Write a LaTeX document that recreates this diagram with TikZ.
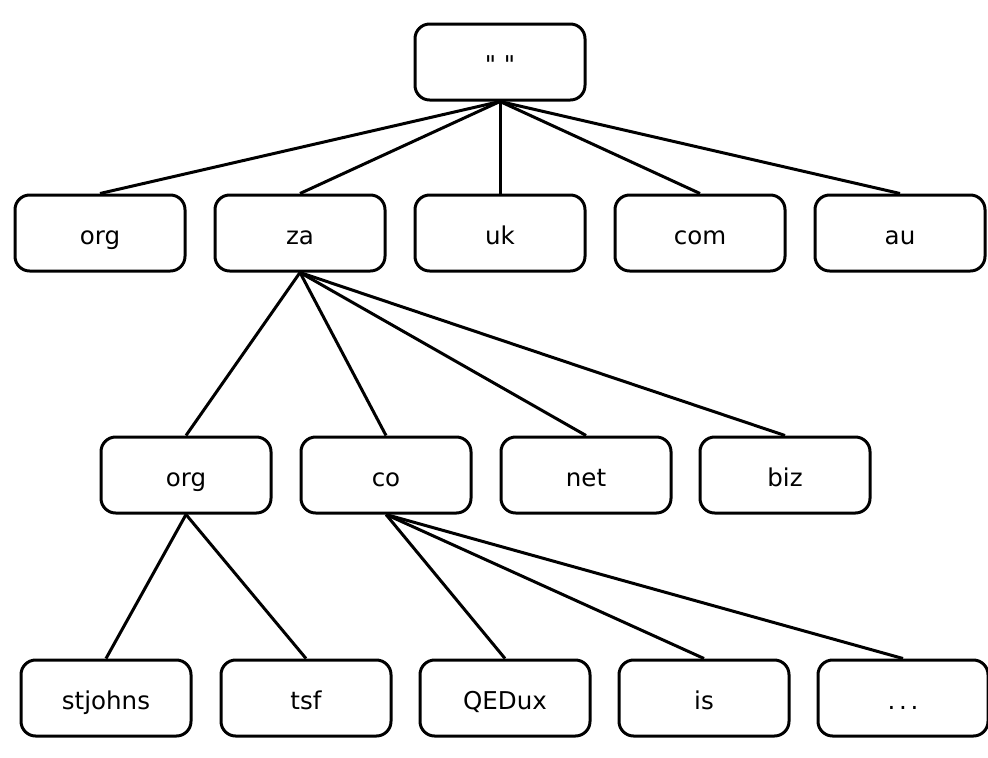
\documentclass[tikz,border=0pt]{standalone}
\usepackage{fontspec}
% plain family without TeX ligatures, so " stays a straight quote
\newfontfamily\labelfont{DejaVu Sans}
\begin{document}
\begin{tikzpicture}[x=0.75pt,y=-0.75pt,
  dnsbox/.style={draw=black,line width=2.25pt,rounded corners=11pt,
    minimum width=127.5pt,minimum height=57pt,inner sep=0pt,
    text height=18pt,text depth=1.5pt,
    font=\labelfont\fontsize{18.4}{22}\selectfont,fill=white},
  link/.style={draw=black,line width=2.25pt}]
\useasboundingbox[fill=white] (0,0) rectangle (988,757);
% root
\node[dnsbox] (root) at (500,62) {"\ "};
% top-level domains
\node[dnsbox] (org)  at (100,233) {org};
\node[dnsbox] (za)   at (300,233) {za};
\node[dnsbox] (uk)   at (500,233) {uk};
\node[dnsbox] (com)  at (700,233) {com};
\node[dnsbox] (au)   at (900,233) {au};
% second level under za
\node[dnsbox] (zaorg) at (186,475) {org};
\node[dnsbox] (co)    at (386,475) {co};
\node[dnsbox] (net)   at (586,475) {net};
\node[dnsbox] (biz)   at (785,475) {biz};
% third level
\node[dnsbox] (stjohns) at (106,698) {stjohns};
\node[dnsbox] (tsf)     at (306,698) {tsf};
\node[dnsbox] (qedux)   at (505,698) {QEDux};
\node[dnsbox] (is)      at (704,698) {is};
\node[dnsbox] (more)    at (903,698) {.\kern2.8pt.\kern2.8pt.};
% connectors
\foreach \c in {org,za,uk,com,au}
  \draw[link] (root.south) -- (\c.north);
\foreach \c in {zaorg,co,net,biz}
  \draw[link] (za.south) -- (\c.north);
\foreach \c in {stjohns,tsf}
  \draw[link] (zaorg.south) -- (\c.north);
\foreach \c in {qedux,is,more}
  \draw[link] (co.south) -- (\c.north);
\end{tikzpicture}
\end{document}
